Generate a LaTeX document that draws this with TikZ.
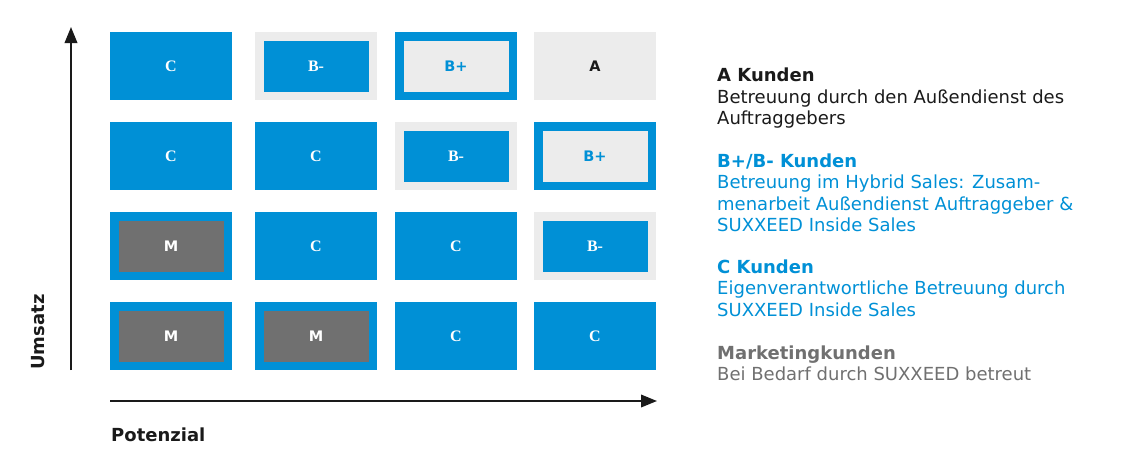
\documentclass[tikz,border=0pt]{standalone}
\usepackage{fontspec}
\setmainfont{DejaVu Sans}
\newfontfamily\labserif{Liberation Serif}
\usetikzlibrary{arrows.meta}
\definecolor{sxblue}{HTML}{0090D6}
\definecolor{sxlight}{HTML}{ECECEC}
\definecolor{sxdark}{HTML}{707070}
\definecolor{sxblack}{HTML}{1A1A1A}
\definecolor{sxgraytext}{HTML}{707070}
\tikzset{
  cell/.style={minimum width=113.5pt, minimum height=59.5pt, line width=8.5pt, inner sep=0pt, outer sep=0pt},
  cellC/.style={cell, draw=sxblue, fill=sxblue, text=white, font=\labserif\bfseries\fontsize{16}{18}\selectfont},
  cellBm/.style={cell, draw=sxlight, fill=sxblue, text=white, font=\labserif\bfseries\fontsize{16}{18}\selectfont},
  cellBp/.style={cell, draw=sxblue, fill=sxlight, text=sxblue, font=\bfseries\fontsize{14.5}{16}\selectfont},
  cellA/.style={cell, draw=sxlight, fill=sxlight, text=sxblack, font=\bfseries\fontsize{14.5}{16}\selectfont},
  cellM/.style={cell, draw=sxblue, fill=sxdark, text=white, font=\bfseries\fontsize{14.5}{16}\selectfont},
  axis/.style={draw=sxblack, line width=2pt, -{Triangle[length=16pt,width=12.5pt]}},
  legend/.style={anchor=base west, inner sep=0pt, font=\fontsize{18}{21.5}\selectfont},
  legendhead/.style={legend, font=\bfseries\fontsize{18}{21.5}\selectfont},
  axislabel/.style={inner sep=0pt, text=sxblack, font=\bfseries\fontsize{18}{21.5}\selectfont}
}
\begin{document}
\begin{tikzpicture}[x=1pt,y=-1pt]
\useasboundingbox (0,0) rectangle (1131,466);
% row 1
\node[cellC]  (r1c1) at (171,66) {C};
\node[cellBm] (r1c2) at (316,66) {B-};
\node[cellBp] (r1c3) at (456,66) {B+};
\node[cellA]  (r1c4) at (595,66) {A};
% row 2
\node[cellC]  (r2c1) at (171,156) {C};
\node[cellC]  (r2c2) at (316,156) {C};
\node[cellBm] (r2c3) at (456,156) {B-};
\node[cellBp] (r2c4) at (595,156) {B+};
% row 3
\node[cellM]  (r3c1) at (171,246) {M};
\node[cellC]  (r3c2) at (316,246) {C};
\node[cellC]  (r3c3) at (456,246) {C};
\node[cellBm] (r3c4) at (595,246) {B-};
% row 4
\node[cellM]  (r4c1) at (171,336) {M};
\node[cellM]  (r4c2) at (316,336) {M};
\node[cellC]  (r4c3) at (456,336) {C};
\node[cellC]  (r4c4) at (595,336) {C};
% axes
\coordinate (yfrom) at (71,370);
\coordinate (yto) at (71,27);
\coordinate (xfrom) at (110,401);
\coordinate (xto) at (657,401);
\draw[axis] (yfrom) -- (yto);
\draw[axis] (xfrom) -- (xto);
\node[axislabel, anchor=base west, rotate=90] (umsatz) at (44,370) {Umsatz};
\node[axislabel, anchor=base west] (potenzial) at (111,441.5) {Potenzial};
% legend
\node[legendhead, text=sxblack] (a1) at (717,81.5) {A Kunden};
\node[legend, text=sxblack] (a2) at (717,103) {Betreuung durch den Außendienst des};
\node[legend, text=sxblack] (a3) at (717,124.5) {Auftraggebers};
\node[legendhead, text=sxblue] (b1) at (717,167) {B+/B- Kunden};
\node[legend, text=sxblue] (b2) at (717,188.5) {Betreuung im Hybrid Sales: Zusam-};
\node[legend, text=sxblue] (b3) at (717,210) {menarbeit Außendienst Auftraggeber \&};
\node[legend, text=sxblue] (b4) at (717,231.5) {SUXXEED Inside Sales};
\node[legendhead, text=sxblue] (c1) at (717,273) {C Kunden};
\node[legend, text=sxblue] (c2) at (717,294.5) {Eigenverantwortliche Betreuung durch};
\node[legend, text=sxblue] (c3) at (717,316) {SUXXEED Inside Sales};
\node[legendhead, text=sxgraytext] (m1) at (717,359) {Marketingkunden};
\node[legend, text=sxgraytext] (m2) at (717,380.5) {Bei Bedarf durch SUXXEED betreut};
\end{tikzpicture}
\end{document}
